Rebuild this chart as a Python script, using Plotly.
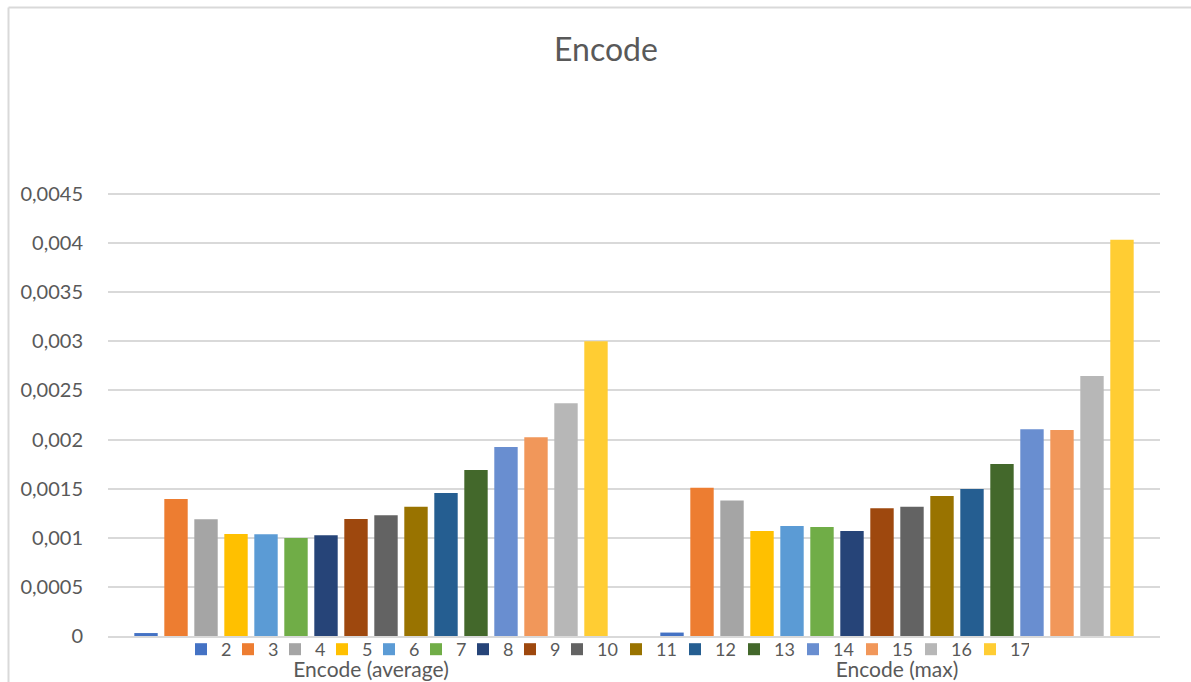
import plotly.graph_objects as go

categories = ["Encode (average)", "Encode (max)"]
series_names = ["2", "3", "4", "5", "6", "7", "8", "9", "10", "11", "12", "13", "14", "15", "16", "17"]
encode_average = [0.00003, 0.001395, 0.001188, 0.001039, 0.001036, 0.000998, 0.001025, 0.001191,
                  0.001229, 0.001317, 0.001456, 0.00169, 0.001925, 0.002023, 0.00237, 0.003]
encode_max = [0.000035, 0.00151, 0.00138, 0.00107, 0.00112, 0.00111, 0.00107, 0.0013,
              0.001317, 0.001426, 0.001497, 0.00175, 0.002105, 0.002098, 0.002648, 0.004033]
colors = ["#4472C4", "#ED7D31", "#A5A5A5", "#FFC000", "#5B9BD5", "#70AD47", "#264478", "#9E480E",
          "#636363", "#997300", "#255E91", "#43682B", "#698ED0", "#F1975A", "#B7B7B7", "#FFCD33"]
y_tick_values = [0, 0.0005, 0.001, 0.0015, 0.002, 0.0025, 0.003, 0.0035, 0.004, 0.0045]
y_tick_labels = ["0", "0,0005", "0,001", "0,0015", "0,002", "0,0025", "0,003", "0,0035", "0,004", "0,0045"]

TEXT = "#595959"
GRID = "#d9d9d9"
FONT = "Lato"

fig = go.Figure()
for i, name in enumerate(series_names):
    fig.add_trace(go.Bar(
        x=categories,
        y=[encode_average[i], encode_max[i]],
        name=name,
        marker=dict(color=colors[i], line=dict(width=0)),
        legendwidth=2 if len(name) == 1 else 14,
    ))

W, H = 1191, 682
L, R, T, B = 108, 1160, 192, 636
pw, ph = R - L, B - T

def px_x(x):
    return (x - L) / pw

def px_y(y):
    return (B - y) / ph

fig.update_layout(
    width=W, height=H,
    margin=dict(l=L, r=W - R, t=T, b=H - B, pad=0, autoexpand=False),
    paper_bgcolor="white", plot_bgcolor="white",
    font=dict(family=FONT, color=TEXT, size=20),
    title=dict(text="Encode", x=606 / W, xanchor="center", xref="container",
               y=1 - 50 / H, yanchor="middle", yref="container",
               font=dict(family=FONT, size=32, color=TEXT)),
    barmode="group",
    bargap=0.0875,
    bargroupgap=0.22,
    showlegend=True,
    legend=dict(orientation="h", xref="container", yref="container",
                x=181 / W, xanchor="left", y=1 - 631 / H, yanchor="top",
                font=dict(family=FONT, size=18, color=TEXT), bgcolor="rgba(0,0,0,0)",
                borderwidth=0, itemwidth=30, traceorder="normal"),
    xaxis=dict(type="category", showgrid=False, showline=True, linecolor=GRID, linewidth=1.5,
               ticks="outside", ticklen=14, tickcolor="rgba(0,0,0,0)", automargin=False,
               tickfont=dict(family=FONT, size=21, color=TEXT), fixedrange=True),
    yaxis=dict(range=[0, 0.00452], tickvals=y_tick_values, ticktext=y_tick_labels,
               showgrid=True, gridcolor=GRID, gridwidth=1.5, zeroline=False, showline=False,
               ticks="outside", ticklen=20, tickcolor="rgba(0,0,0,0)", automargin=False,
               tickfont=dict(family=FONT, size=20, color=TEXT), fixedrange=True),
    shapes=[
        dict(type="line", xref="paper", yref="paper", x0=px_x(8.5), x1=px_x(1200),
             y0=px_y(7.5), y1=px_y(7.5), line=dict(color=GRID, width=2)),
        dict(type="line", xref="paper", yref="paper", x0=px_x(8.5), x1=px_x(8.5),
             y0=px_y(7.5), y1=px_y(700), line=dict(color=GRID, width=2)),
    ],
)

fig.write_html("out.html")
